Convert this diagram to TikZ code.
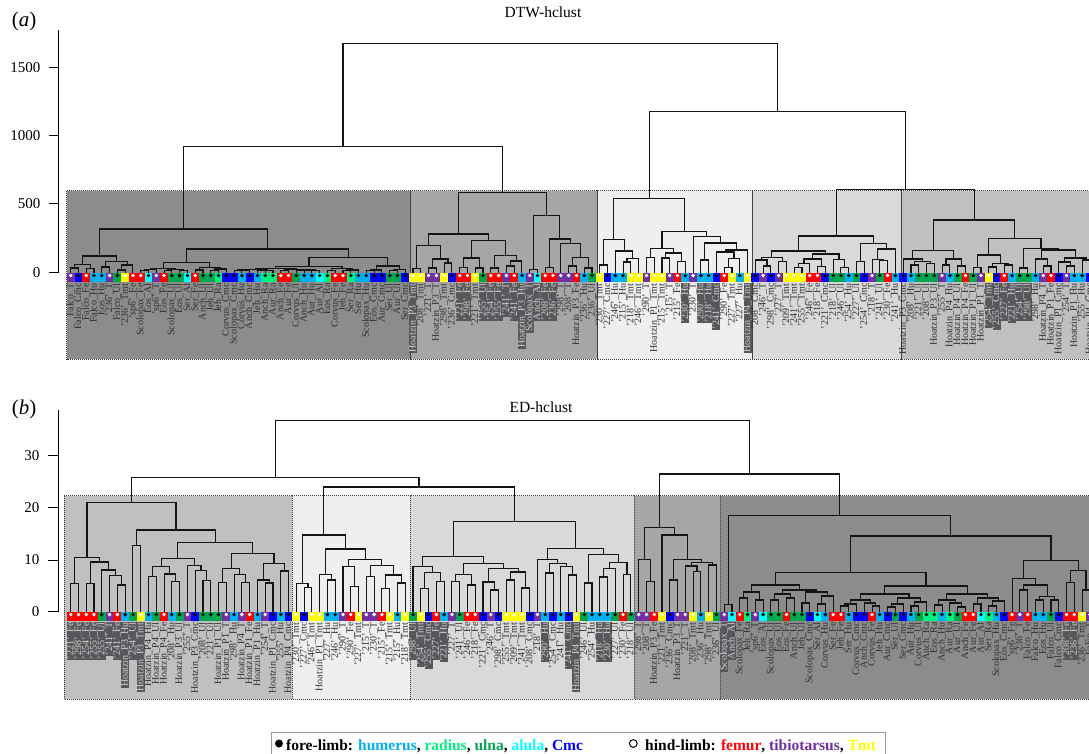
\documentclass[tikz,border=0pt]{standalone}
\usepackage{fontspec}
\setmainfont{Liberation Serif}
\usetikzlibrary{calc}
\definecolor{cH}{HTML}{00B0F0}
\definecolor{cR}{HTML}{00F080}
\definecolor{cU}{HTML}{00A550}
\definecolor{cA}{HTML}{00FFFF}
\definecolor{cC}{HTML}{0000FF}
\definecolor{cF}{HTML}{FF0000}
\definecolor{cT}{HTML}{7030A0}
\definecolor{cM}{HTML}{FFFF00}
\colorlet{dH}{black}\colorlet{dR}{black}\colorlet{dU}{black}\colorlet{dA}{black}\colorlet{dC}{black}
\colorlet{dF}{white}\colorlet{dT}{white}\colorlet{dM}{white}
\definecolor{gA}{HTML}{8C8C8C}
\definecolor{gB}{HTML}{A6A6A6}
\definecolor{gC}{HTML}{EFEFEF}
\definecolor{gD}{HTML}{D9D9D9}
\definecolor{gE}{HTML}{C0C0C0}
\definecolor{hlbg}{HTML}{58585C}
\definecolor{hltx}{HTML}{D0D0D0}
\definecolor{labc}{HTML}{303030}
\definecolor{dendc}{HTML}{141414}
\newcommand\mg[5]{%
  \edef\mgj{\the\numexpr#3+1\relax}%
  \path let \p1=(#1-#2-#3), \p2=(#1-\mgj-#4) in ({(\x1+\x2)/2},-#5pt) coordinate (#1-#2-#4);%
  \draw[dend] (#1-#2-#3) |- (#1-#2-#4) -| (#1-\mgj-#4);}
\newcommand\leafrow[3]{%
  \foreach \cd/\lb/\hh [count=\i] in {#3}{%
    \pgfmathsetmacro\xx{70.7+7.78*(\i-1)}%
    \coordinate (#1-\i-\i) at (\xx,#2);%
    \ifnum\hh=1\relax
      \node[lab,fill=hlbg,text=hltx] at (\xx,#2+9) {\lb};%
    \else
      \node[lab] at (\xx,#2+9) {\lb};%
    \fi
    \fill[fill=c\cd] (\xx-3.89,#2) rectangle (\xx+3.89,#2+8.2);%
    \fill[fill=d\cd] (\xx,#2+2.2) circle (1.9);%
  }}
\begin{document}
\begin{tikzpicture}[x=1pt,y=-1pt,
  dend/.style={draw=dendc,line width=1.1pt},
  lab/.style={rotate=90,anchor=east,inner xsep=1pt,inner ysep=0pt,font=\fontsize{10}{10}\selectfont,text=labc,text height=6.6pt,text depth=1.4pt},
  clbox/.style={draw=black!75,line width=0.7pt,dash pattern=on 1pt off 1pt},
  yax/.style={line width=1pt,draw=black},
  ticklab/.style={anchor=east,inner sep=0pt,font=\fontsize{15}{15}\selectfont},
  ttl/.style={inner sep=0pt,font=\fontsize{15.5}{15.5}\selectfont},
  plab/.style={inner sep=0pt,font=\fontsize{21}{21}\selectfont}]
\useasboundingbox (0,0) rectangle (1089,754);
\clip (0,0) rectangle (1089,754);
\fill[white] (0,0) rectangle (1089,754);
% ---------- panel (a) ----------
\node[plab] (pa) at (24,21) {(\textit{a})};
\node[ttl] (ta) at (543,12) {DTW-hclust};
\fill[gA] (66.7,190.7) rectangle (410,359.3);
\fill[gB] (410,190.7) rectangle (597,359.3);
\fill[gC] (597,190.7) rectangle (752.3,359.3);
\fill[gD] (752.3,190.7) rectangle (901,359.3);
\fill[gE] (901,190.7) rectangle (1100,359.3);
\draw[clbox] (66.7,190.7) rectangle (410,359.3);
\draw[clbox] (410,190.7) rectangle (597,359.3);
\draw[clbox] (597,190.7) rectangle (752.3,359.3);
\draw[clbox] (752.3,190.7) rectangle (901,359.3);
\draw[clbox] (901,190.7) rectangle (1100,359.3);
\draw[yax] (58.7,30) -- (58.7,272.3);
\foreach \v/\yy in {0/272.3,500/204,1000/136,1500/67.3}{
  \draw[yax] (48.5,\yy) -- (58.7,\yy);
  \node[ticklab] at (40.5,\yy) {\v};}
\leafrow{a}{273.3}{T/Falco\_T/0,C/Falco\_Cmc/0,F/Falco\_Fe/0,H/Falco\_Hu/0,H/Eos\_Hu/0,T/'236'\_T/0,U/Falco\_Ul/0,M/'236'\_Tmt/0,F/'sp6'\_Fe/0,F/Scolopax\_Fe/0,
A/Eos\_Al/0,T/'sp6'\_T/0,F/Eos\_Fe/0,U/Scolopax\_Ul/0,U/Eos\_Ul/0,A/Ser\_Al/0,F/Ser\_Fe/0,U/Anch\_Ul/0,U/Jeh\_Ul/0,R/Jeh\_Ra/0,
C/Corvus\_Cmc/0,C/Scolopax\_Cmc/0,H/Corvus\_Hu/0,C/Anch\_Cmc/0,H/Jeh\_Hu/0,R/Anch\_Ra/0,R/Aur\_Ra/0,F/Anch\_Fe/0,F/Aur\_Fe/0,U/Corvus\_Ul/0,
H/Anch\_Hu/0,H/Aur\_Hu/0,A/Aur\_Al/0,R/Eos\_Ra/0,F/Corvus\_Fe/0,F/Jeh\_Fe/0,R/Ser\_Ra/0,H/Ser\_Hu/0,H/Scolopax\_Hu/0,C/Eos\_Cmc/0,
C/Aur\_Cmc/0,U/Ser\_Ul/0,U/Aur\_Ul/0,C/Ser\_Cmc/0,M/Hoatzin\_P3\_Tmt/1,M/'208'\_Tmt/0,T/'221'\_T/0,T/Hoatzin\_P3\_T/0,M/'298'\_Tmt/0,C/'236'\_Cmc/0,
F/'221'\_Fe/1,F/'298'\_Fe/1,M/'221'\_Tmt/0,U/'255'\_Ul/1,F/'254'\_Fe/1,F/'255'\_Fe/1,T/'241'\_T/1,F/'241'\_Fe/1,H/Hoatzin\_P3\_Hu/1,T/Scolopax\_T/1,
A/Anch\_Al/1,F/'208'\_Fe/1,F/'236'\_Fe/1,T/'298'\_T/0,T/'208'\_T/0,F/Hoatzin\_P3\_Fe/0,H/'236'\_Hu/0,U/'236'\_Ul/0,M/'230'\_Tmt/0,C/'227'\_Cmc/0,
H/'246'\_Hu/0,H/'215'\_Hu/0,M/'218'\_Tmt/0,M/'246'\_Tmt/0,T/'290'\_T/0,M/Hoatzin\_P1\_Tmt/0,M/'215'\_Tmt/0,T/'215'\_T/0,F/'215'\_Fe/0,H/'230'\_Hu/1,
T/'230'\_T/0,H/'290'\_Hu/1,H/'218'\_Hu/1,C/'241'\_Cmc/1,F/'290'\_Fe/0,M/'227'\_Tmt/0,H/'227'\_Hu/0,M/Hoatzin\_P4\_Tmt/1,C/'208'\_Cmc/0,T/'246'\_T/0,
C/'298'\_Cmc/0,T/'227'\_T/0,M/'209'\_Tmt/0,M/'241'\_Tmt/0,M/'255'\_Tmt/0,F/'246'\_Fe/0,F/'218'\_Fe/0,C/'221'\_Cmc/0,U/'218'\_Ul/0,U/'246'\_Ul/0,
H/'254'\_Hu/0,U/'227'\_Ul/0,C/'254'\_Cmc/0,T/'218'\_T/0,U/'241'\_Ul/0,F/'230'\_Fe/0,H/'241'\_Hu/0,C/Hoatzin\_P3\_Cmc/0,H/'208'\_Hu/0,U/'221'\_Ul/0,
U/'208'\_Ul/0,U/Hoatzin\_P3\_Ul/0,T/'255'\_T/0,H/Hoatzin\_P4\_Hu/0,U/Hoatzin\_P4\_Ul/0,F/Hoatzin\_P4\_Fe/0,U/Hoatzin\_P1\_Ul/0,T/Hoatzin\_P1\_T/0,M/'254'\_Tmt/1,C/'255'\_Cmc/1,
F/'227'\_Fe/1,H/'221'\_Hu/1,U/'254'\_Ul/1,U/'298'\_Ul/1,H/'298'\_Hu/0,T/Hoatzin\_P4\_T/0,F/Hoatzin\_P1\_Fe/0,C/Hoatzin\_P1\_Cmc/0,T/'254'\_T/0,H/Hoatzin\_P1\_Hu/0,
H/'255'\_Hu/0,C/Hoatzin\_P4\_Cmc/0}
% box1 (a)
\mg{a}{1}{1}{2}{268}\mg{a}{3}{3}{4}{268.5}\mg{a}{1}{2}{4}{264.3}
\mg{a}{5}{5}{6}{267}\mg{a}{7}{7}{8}{270}\mg{a}{7}{8}{9}{265}\mg{a}{5}{6}{9}{261.7}
\mg{a}{1}{4}{9}{256}
\mg{a}{10}{10}{11}{270.5}\mg{a}{10}{11}{12}{269.5}\mg{a}{13}{13}{14}{270.5}\mg{a}{15}{15}{16}{270.5}
\mg{a}{13}{14}{16}{269.5}\mg{a}{10}{12}{16}{268.7}
\mg{a}{17}{17}{18}{270}\mg{a}{19}{19}{20}{270.5}\mg{a}{19}{20}{21}{269}\mg{a}{17}{18}{21}{267.3}
\mg{a}{10}{16}{21}{262.3}
\mg{a}{22}{22}{23}{270.5}\mg{a}{22}{23}{24}{270}\mg{a}{25}{25}{26}{270.8}\mg{a}{25}{26}{27}{270.2}
\mg{a}{22}{24}{27}{269.5}
\mg{a}{28}{28}{29}{270.5}\mg{a}{30}{30}{31}{270.8}\mg{a}{32}{32}{33}{270.5}\mg{a}{30}{31}{33}{270}
\mg{a}{28}{29}{33}{269.3}\mg{a}{22}{27}{33}{268.7}
\mg{a}{34}{34}{35}{270.5}\mg{a}{36}{36}{37}{270.7}\mg{a}{36}{37}{38}{270}\mg{a}{34}{35}{38}{268.5}
\mg{a}{22}{33}{38}{266.7}
\mg{a}{39}{39}{40}{270.5}\mg{a}{39}{40}{41}{270}\mg{a}{42}{42}{43}{270.6}\mg{a}{42}{43}{44}{269.3}
\mg{a}{39}{41}{44}{266}\mg{a}{22}{38}{44}{257.7}\mg{a}{10}{21}{44}{249}\mg{a}{1}{9}{44}{229}
% box2 (a)
\mg{a}{45}{45}{46}{268.3}\mg{a}{47}{47}{48}{268}\mg{a}{49}{49}{50}{263}\mg{a}{47}{48}{50}{259}
\mg{a}{45}{46}{50}{245.7}
\mg{a}{51}{51}{52}{267.3}\mg{a}{53}{53}{54}{268}\mg{a}{51}{52}{54}{258}
\mg{a}{55}{55}{56}{268}\mg{a}{57}{57}{58}{266}\mg{a}{57}{58}{59}{261}\mg{a}{55}{56}{59}{255.7}
\mg{a}{51}{54}{59}{240.7}\mg{a}{45}{50}{59}{234}
\mg{a}{60}{60}{61}{269.3}\mg{a}{62}{62}{63}{267.3}\mg{a}{65}{65}{66}{266}\mg{a}{67}{67}{68}{268}
\mg{a}{65}{66}{68}{257.7}\mg{a}{64}{64}{68}{243.3}\mg{a}{62}{63}{68}{239}\mg{a}{60}{61}{68}{215.7}
\mg{a}{45}{59}{68}{192.3}
% box3 (a)
\mg{a}{69}{69}{70}{265}\mg{a}{72}{72}{73}{262}\mg{a}{72}{73}{74}{258.3}\mg{a}{71}{71}{74}{251}
\mg{a}{69}{70}{74}{239.3}
\mg{a}{75}{75}{76}{257.3}\mg{a}{77}{77}{78}{258}\mg{a}{79}{79}{80}{261.7}\mg{a}{77}{78}{80}{253}
\mg{a}{75}{76}{80}{248.3}
\mg{a}{82}{82}{83}{260}\mg{a}{85}{85}{86}{267.3}\mg{a}{85}{86}{87}{258.3}\mg{a}{84}{84}{87}{252}
\mg{a}{84}{87}{88}{250}\mg{a}{82}{83}{88}{243}\mg{a}{81}{81}{88}{236.7}\mg{a}{75}{80}{88}{231.7}
\mg{a}{69}{74}{88}{198.3}
% box4 (a)
\mg{a}{90}{90}{91}{266}\mg{a}{89}{89}{91}{260}\mg{a}{92}{92}{93}{261.7}\mg{a}{89}{91}{93}{257.3}
\mg{a}{94}{94}{95}{267.3}\mg{a}{94}{95}{96}{263.3}\mg{a}{97}{97}{98}{266.5}\mg{a}{94}{96}{98}{259}
\mg{a}{100}{100}{101}{267.3}\mg{a}{99}{99}{101}{259.3}\mg{a}{94}{98}{101}{254}\mg{a}{89}{93}{101}{251}
\mg{a}{102}{102}{103}{261.7}\mg{a}{105}{105}{106}{260.7}\mg{a}{104}{104}{106}{259.3}
\mg{a}{104}{106}{107}{249}\mg{a}{102}{103}{107}{243.3}\mg{a}{89}{101}{107}{236}
% box5 (a)
\mg{a}{109}{109}{110}{265}\mg{a}{111}{111}{112}{263.3}\mg{a}{109}{110}{112}{261.7}\mg{a}{108}{108}{112}{259}
\mg{a}{113}{113}{114}{265}\mg{a}{115}{115}{116}{266}\mg{a}{113}{114}{116}{259}\mg{a}{108}{112}{116}{250.7}
\mg{a}{117}{117}{118}{267.3}\mg{a}{119}{119}{120}{267}\mg{a}{121}{121}{122}{265}\mg{a}{119}{120}{122}{263.3}
\mg{a}{117}{118}{122}{255}
\mg{a}{123}{123}{124}{268}\mg{a}{126}{126}{127}{266}\mg{a}{125}{125}{127}{259}
\mg{a}{129}{129}{130}{266}\mg{a}{128}{128}{130}{262}\mg{a}{131}{131}{132}{260}\mg{a}{128}{130}{132}{258}
\mg{a}{125}{127}{132}{250}\mg{a}{123}{124}{132}{248.3}\mg{a}{117}{122}{132}{238.3}\mg{a}{108}{116}{132}{220}
% top (a)
\mg{a}{1}{44}{68}{146.7}\mg{a}{89}{107}{132}{189.3}\mg{a}{69}{88}{132}{111.7}\mg{a}{1}{68}{132}{43.3}
% ---------- panel (b) ----------
\node[plab] (pb) at (24,409) {(\textit{b})};
\node[ttl] (tb) at (541,407.5) {ED-hclust};
\fill[gE] (64.3,495.7) rectangle (292.3,699.3);
\fill[gC] (292.3,495.7) rectangle (410,699.3);
\fill[gD] (410,495.7) rectangle (634.3,699.3);
\fill[gB] (634.3,495.7) rectangle (720,699.3);
\fill[gA] (720,495.7) rectangle (1100,699.3);
\draw[clbox] (64.3,495.7) rectangle (292.3,699.3);
\draw[clbox] (292.3,495.7) rectangle (410,699.3);
\draw[clbox] (410,495.7) rectangle (634.3,699.3);
\draw[clbox] (634.3,495.7) rectangle (720,699.3);
\draw[clbox] (720,495.7) rectangle (1100,699.3);
\draw[yax] (58,410) -- (58,611.7);
\foreach \v/\yy in {0/611.7,10/560,20/507.7,30/455.7}{
  \draw[yax] (47.7,\yy) -- (58,\yy);
  \node[ticklab] at (39.5,\yy) {\v};}
\leafrow{b}{612.3}{F/'221'\_Fe/1,F/'298'\_Fe/1,F/'254'\_Fe/1,F/'255'\_Fe/1,U/'255'\_Ul/1,T/'241'\_T/1,F/'241'\_Fe/1,H/Hoatzin\_P3\_Hu/1,U/'254'\_Ul/1,M/Hoatzin\_P3\_Tmt/1,
H/Hoatzin\_P4\_Hu/0,U/Hoatzin\_P4\_Ul/0,F/Hoatzin\_P4\_Fe/0,H/'208'\_Hu/0,U/Hoatzin\_P3\_Ul/0,T/'255'\_T/0,C/Hoatzin\_P3\_Cmc/0,U/'208'\_Ul/0,U/'221'\_Ul/0,U/Hoatzin\_P1\_Ul/0,
T/Hoatzin\_P1\_T/0,H/'298'\_Hu/0,T/Hoatzin\_P4\_T/0,F/Hoatzin\_P1\_Fe/0,H/Hoatzin\_P1\_Hu/0,T/'254'\_T/0,C/Hoatzin\_P1\_Cmc/0,H/'255'\_Hu/0,C/Hoatzin\_P4\_Cmc/0,M/'230'\_Tmt/0,
C/'227'\_Cmc/0,M/'246'\_Tmt/0,M/Hoatzin\_P1\_Tmt/0,H/'227'\_Hu/0,H/'246'\_Hu/0,T/'290'\_T/0,F/'290'\_Fe/0,M/'227'\_Tmt/0,T/'215'\_T/0,T/'230'\_T/0,
F/'215'\_Fe/0,M/'215'\_Tmt/0,H/'215'\_Hu/0,M/'218'\_Tmt/0,U/'298'\_Ul/1,M/'254'\_Tmt/1,C/'255'\_Cmc/1,F/'227'\_Fe/1,H/'221'\_Hu/1,T/'227'\_T/0,
U/'241'\_Ul/0,F/'246'\_Fe/0,F/'218'\_Fe/0,C/'221'\_Cmc/0,T/'246'\_T/0,C/'298'\_Cmc/0,M/'255'\_Tmt/0,M/'209'\_Tmt/0,M/'241'\_Tmt/0,C/'208'\_Cmc/0,
T/'218'\_T/0,H/'290'\_Hu/1,C/'254'\_Cmc/0,H/'241'\_Hu/0,C/'241'\_Cmc/1,M/Hoatzin\_P4\_Tmt/1,U/'246'\_Ul/0,H/'254'\_Hu/0,H/'218'\_Hu/1,H/'230'\_Hu/1,
U/'227'\_Ul/0,F/'230'\_Fe/0,U/'218'\_Ul/0,T/'298'\_T/0,T/'208'\_T/0,F/Hoatzin\_P3\_Fe/0,M/'221'\_Tmt/0,C/'236'\_Cmc/0,T/Hoatzin\_P3\_T/0,T/'221'\_T/0,
M/'208'\_Tmt/0,H/'236'\_Hu/0,M/'298'\_Tmt/0,U/'236'\_Ul/0,T/Scolopax\_T/1,A/Anch\_Al/1,F/Scolopax\_Fe/0,R/Jeh\_Ra/0,T/'sp6'\_T/0,A/Eos\_Al/0,
U/Scolopax\_Ul/0,U/Eos\_Ul/0,F/Eos\_Fe/0,U/Anch\_Ul/0,U/Jeh\_Ul/0,C/Scolopax\_Cmc/0,A/Ser\_Al/0,H/Corvus\_Hu/0,F/Ser\_Fe/0,F/Jeh\_Fe/0,
H/Ser\_Hu/0,C/Corvus\_Cmc/0,C/Anch\_Cmc/0,F/Corvus\_Fe/0,H/Jeh\_Hu/0,C/Aur\_Cmc/0,U/Ser\_Ul/0,C/Ser\_Cmc/0,H/Aur\_Hu/0,U/Corvus\_Ul/0,
R/Anch\_Ra/0,R/Eos\_Ra/0,H/Anch\_Hu/0,R/Aur\_Ra/0,U/Aur\_Ul/0,F/Anch\_Fe/0,F/Aur\_Fe/0,A/Aur\_Al/0,R/Ser\_Ra/0,H/Scolopax\_Hu/0,
C/Eos\_Cmc/0,F/'sp6'\_Fe/0,T/'236'\_T/0,F/Falco\_Fe/0,H/Falco\_Hu/0,H/Eos\_Hu/0,U/Falco\_Ul/0,C/Falco\_Cmc/0,F/'208'\_Fe/1,F/'236'\_Fe/1,
M/'236'\_Tmt/0,T/Falco\_T/0}
% box1 (b)
\mg{b}{1}{1}{2}{583.3}\mg{b}{3}{3}{4}{583.3}\mg{b}{7}{7}{8}{585}\mg{b}{6}{6}{8}{575.7}\mg{b}{5}{5}{8}{570}
\mg{b}{3}{4}{8}{562}\mg{b}{1}{2}{8}{557.3}\mg{b}{9}{9}{10}{545.7}
\mg{b}{11}{11}{12}{576.7}\mg{b}{14}{14}{15}{581.7}\mg{b}{13}{13}{15}{574}\mg{b}{11}{12}{15}{566.7}
\mg{b}{18}{18}{19}{580.7}\mg{b}{17}{17}{19}{570.7}\mg{b}{16}{16}{19}{565.7}\mg{b}{11}{15}{19}{558.3}
\mg{b}{20}{20}{21}{582.7}\mg{b}{23}{23}{24}{582.7}\mg{b}{22}{22}{24}{574.3}\mg{b}{20}{21}{24}{568.7}
\mg{b}{26}{26}{27}{583}\mg{b}{25}{25}{27}{580}\mg{b}{28}{28}{29}{571}\mg{b}{25}{27}{29}{563.3}
\mg{b}{20}{24}{29}{553.3}\mg{b}{11}{19}{29}{542.3}\mg{b}{9}{10}{29}{530}\mg{b}{1}{8}{29}{502.3}
% box2 (b)
\mg{b}{31}{31}{32}{587.3}\mg{b}{30}{30}{32}{583.3}\mg{b}{34}{34}{35}{580}\mg{b}{33}{33}{35}{574.3}
\mg{b}{37}{37}{38}{586.7}\mg{b}{36}{36}{38}{566.7}\mg{b}{39}{39}{40}{576.7}\mg{b}{41}{41}{42}{588.3}
\mg{b}{43}{43}{44}{583}\mg{b}{41}{42}{44}{575}\mg{b}{39}{40}{44}{565.7}\mg{b}{36}{38}{44}{559.7}
\mg{b}{33}{35}{44}{549}\mg{b}{30}{32}{44}{535}
% box3 (b)
\mg{b}{46}{46}{47}{588.3}\mg{b}{48}{48}{49}{581.7}\mg{b}{46}{47}{49}{572.3}\mg{b}{45}{45}{49}{566.7}
\mg{b}{50}{50}{51}{581.7}\mg{b}{52}{52}{53}{585}\mg{b}{50}{51}{53}{574.3}
\mg{b}{55}{55}{56}{590}\mg{b}{54}{54}{56}{582}\mg{b}{57}{57}{58}{580}\mg{b}{59}{59}{60}{588}
\mg{b}{57}{58}{60}{572}\mg{b}{54}{56}{60}{568.3}\mg{b}{50}{53}{60}{563.3}\mg{b}{45}{49}{60}{556.3}
\mg{b}{62}{62}{63}{573}\mg{b}{65}{65}{66}{575}\mg{b}{64}{64}{66}{566.7}\mg{b}{62}{63}{66}{563.3}
\mg{b}{61}{61}{66}{559.3}
\mg{b}{67}{67}{68}{583}\mg{b}{69}{69}{70}{577}\mg{b}{69}{70}{71}{568.3}\mg{b}{72}{72}{73}{574.3}
\mg{b}{69}{71}{73}{562.7}\mg{b}{67}{68}{73}{554.3}\mg{b}{61}{66}{73}{548.7}\mg{b}{45}{60}{73}{521.7}
% box4 (b)
\mg{b}{75}{75}{76}{581.7}\mg{b}{74}{74}{76}{559.3}\mg{b}{78}{78}{79}{580}\mg{b}{81}{81}{82}{571.7}
\mg{b}{80}{80}{82}{566}\mg{b}{83}{83}{84}{565}\mg{b}{80}{82}{84}{562.7}\mg{b}{78}{79}{84}{559.3}
\mg{b}{77}{77}{84}{535}\mg{b}{74}{76}{84}{527.3}
% box5 (b)
\mg{b}{85}{85}{86}{604.3}
\mg{b}{87}{87}{88}{598}\mg{b}{89}{89}{90}{600}\mg{b}{87}{88}{90}{592}
\mg{b}{91}{91}{92}{600}\mg{b}{93}{93}{94}{598}\mg{b}{91}{92}{94}{594}
\mg{b}{95}{95}{96}{603}\mg{b}{97}{97}{98}{604}\mg{b}{97}{98}{99}{596}\mg{b}{95}{96}{99}{592}
\mg{b}{91}{94}{99}{590}\mg{b}{87}{90}{99}{585}
\mg{b}{100}{100}{101}{606}\mg{b}{100}{101}{102}{604}\mg{b}{104}{104}{105}{606}\mg{b}{103}{103}{105}{603}
\mg{b}{100}{102}{105}{600}
\mg{b}{106}{106}{107}{607}\mg{b}{106}{107}{108}{604}\mg{b}{109}{109}{110}{606}\mg{b}{109}{110}{111}{602}
\mg{b}{106}{108}{111}{598}\mg{b}{100}{105}{111}{594}
\mg{b}{112}{112}{113}{605}\mg{b}{115}{115}{116}{607}\mg{b}{114}{114}{116}{603}\mg{b}{112}{113}{116}{600}
\mg{b}{117}{117}{118}{604}\mg{b}{119}{119}{120}{606}\mg{b}{119}{120}{121}{601}\mg{b}{117}{118}{121}{598}
\mg{b}{112}{116}{121}{594}\mg{b}{100}{111}{121}{586}\mg{b}{87}{99}{121}{572.7}
\mg{b}{123}{123}{124}{590}\mg{b}{125}{125}{126}{600}\mg{b}{127}{127}{128}{600}\mg{b}{125}{126}{128}{596.7}
\mg{b}{123}{124}{128}{585}\mg{b}{122}{122}{128}{578.3}
\mg{b}{129}{129}{130}{582.7}\mg{b}{131}{131}{132}{590}\mg{b}{129}{130}{132}{570.3}
\mg{b}{122}{128}{132}{560.3}\mg{b}{87}{121}{132}{536}\mg{b}{85}{86}{132}{515.7}
% top (b)
\mg{b}{30}{44}{73}{487}\mg{b}{1}{29}{73}{477.7}\mg{b}{74}{84}{132}{474}\mg{b}{1}{73}{132}{420.7}
% ---------- legend ----------
\draw[draw=black!40,line width=1pt] (271,732.7) rectangle (885,775);
\fill (279,743.5) circle (4);
\node[anchor=base west,inner sep=0pt,font=\fontsize{15.5}{15.5}\selectfont\bfseries] (legf) at (286,750)
  {fore-limb: \textcolor{cH}{humerus}, \textcolor{cR}{radius}, \textcolor{cU}{ulna}, \textcolor{cA}{alula}, \textcolor{cC}{Cmc}};
\draw[line width=1pt] (633.3,743.5) circle (3.9);
\node[anchor=base west,inner sep=0pt,font=\fontsize{15.5}{15.5}\selectfont\bfseries] (legh) at (645,750)
  {hind-limb: \textcolor{cF}{femur}, \textcolor{cT}{tibiotarsus}, \textcolor{cM}{Tmt}};
\end{tikzpicture}
\end{document}
